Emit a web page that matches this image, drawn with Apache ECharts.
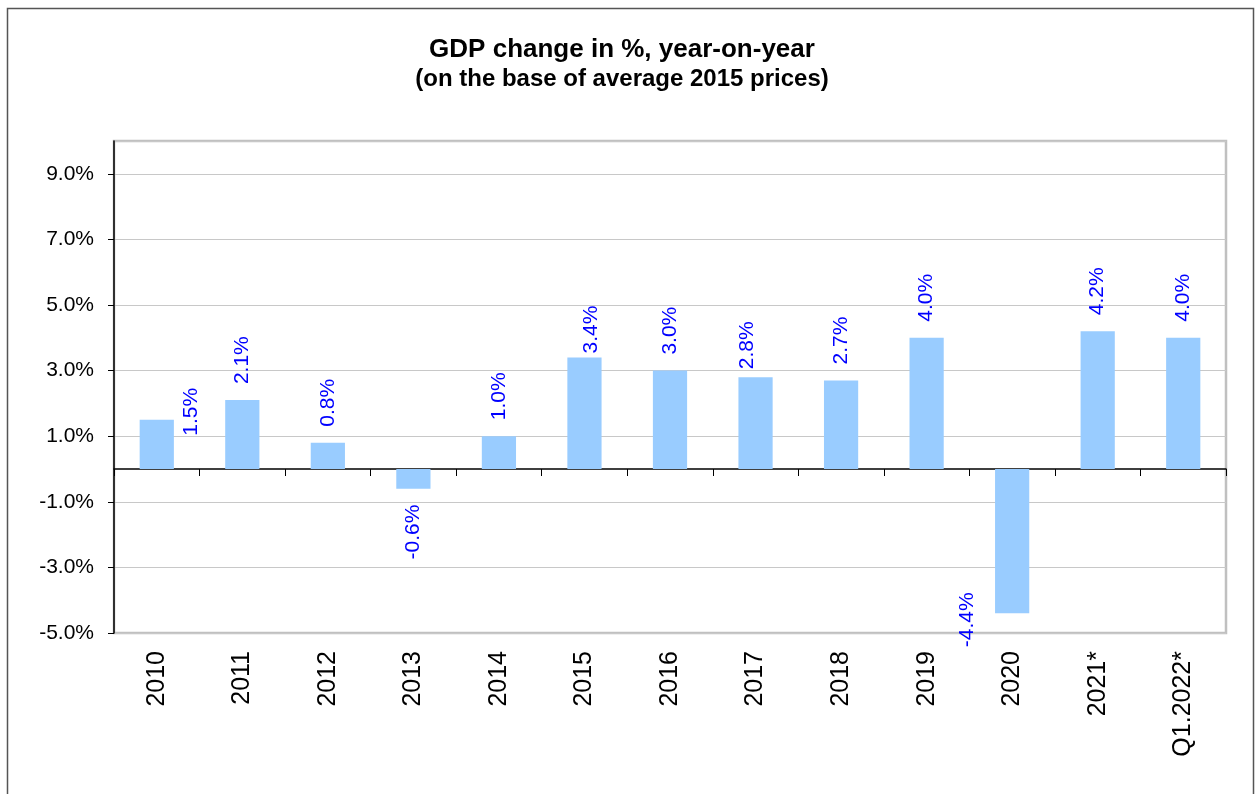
<!DOCTYPE html>
<html>
<head>
<meta charset="utf-8">
<script src="https://cdn.jsdelivr.net/npm/echarts@6/dist/echarts.min.js"></script>
<style>
  html, body { margin: 0; padding: 0; background: #fff; }
  #chart { width: 1260px; height: 794px; }
</style>
</head>
<body>
<div id="chart"></div>
<script>
// Data
const categories = ["2010", "2011", "2012", "2013", "2014", "2015", "2016", "2017", "2018", "2019", "2020", "2021*", "Q1.2022*"];
const gdpChange = [1.5, 2.1, 0.8, -0.6, 1.0, 3.4, 3.0, 2.8, 2.7, 4.0, -4.4, 4.2, 4.0];

const font = '"Liberation Sans", Arial, sans-serif';

// hand-placed labels in the original; screen-space nudges [dx, dy]
const labelNudge = { 0: [34, 32], 5: [7, 12], 7: [-8, 8], 10: [-45, -37] };

const chart = echarts.init(document.getElementById("chart"));

const barData = gdpChange.map((v, i) => {
  const neg = v < 0;
  const n = labelNudge[i] || [0, 0];
  return {
    value: v,
    label: {
      position: neg ? "bottom" : "top",
      align: neg ? "right" : "left",
      // label offset is applied in the rotated (90deg) frame
      offset: [-n[1], n[0]],
    },
  };
});

const option = {
  backgroundColor: "#fff",
  animation: false,
  textStyle: { fontFamily: font },
  title: {
    text: "GDP change in %, year-on-year",
    subtext: "(on the base of average 2015 prices)",
    left: 617,
    textAlign: "center",
    top: 32,
    itemGap: 4,
    textStyle: { fontSize: 26, fontWeight: "bold", color: "#000", fontFamily: font },
    subtextStyle: { fontSize: 24, fontWeight: "bold", color: "#000", fontFamily: font },
  },
  graphic: [
    {
      type: "rect",
      shape: { x: 7.5, y: 8.5, width: 1246, height: 800 },
      style: { fill: "none", stroke: "#555", lineWidth: 1.5 },
      silent: true,
    },
  ],
  grid: {
    left: 114,
    top: 141,
    right: 34,
    bottom: 161,
    containLabel: false,
    show: true,
    borderColor: "#c0c0c0",
    borderWidth: 2.5,
  },
  xAxis: [
    {
      type: "category",
      data: categories,
      position: "bottom",
      axisLine: { onZero: true, lineStyle: { color: "#000", width: 1.5 } },
      axisTick: { show: true, length: 7, interval: 0, lineStyle: { color: "#000" } },
      axisLabel: { show: false },
      splitLine: { show: false },
    },
    {
      type: "category",
      data: categories,
      position: "bottom",
      axisLine: { show: false, onZero: false },
      axisTick: { show: false },
      axisLabel: {
        rotate: 90,
        interval: 0,
        margin: 18,
        fontSize: 25,
        color: "#000",
        fontFamily: font,
      },
    },
  ],
  yAxis: {
    type: "value",
    min: -5,
    max: 10,
    interval: 2,
    axisLine: { show: true, lineStyle: { color: "#000", width: 1.5 } },
    axisTick: { show: true, length: 6, lineStyle: { color: "#000" } },
    axisLabel: {
      showMaxLabel: false,
      margin: 20,
      fontSize: 21,
      color: "#000",
      fontFamily: font,
      formatter: (v) => v.toFixed(1) + "%",
    },
    splitLine: { show: true, lineStyle: { color: "#c8c8c8", width: 1 } },
  },
  series: [
    {
      type: "bar",
      xAxisIndex: 0,
      barWidth: "40%",
      itemStyle: { color: "#99ccff" },
      label: {
        show: true,
        rotate: 90,
        distance: 16,
        verticalAlign: "middle",
        fontSize: 21,
        color: "#0000ff",
        fontFamily: font,
        formatter: (p) => p.value.toFixed(1) + "%",
      },
      data: barData,
    },
  ],
};

chart.setOption(option);
</script>
</body>
</html>
